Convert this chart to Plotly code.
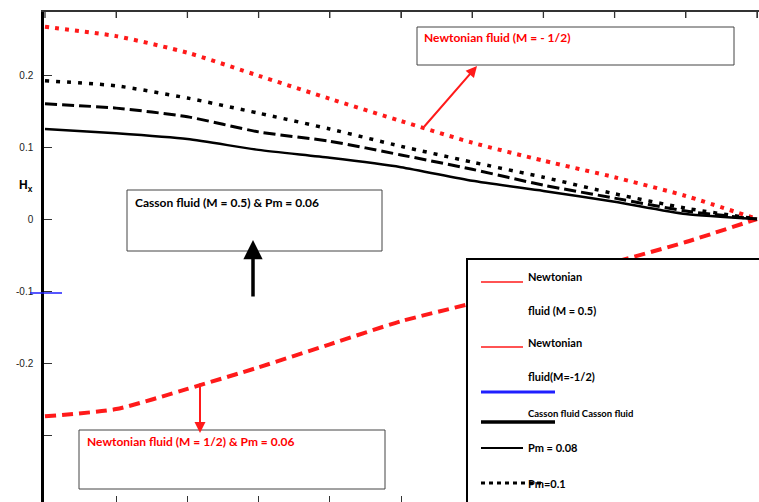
import plotly.graph_objects as go

# ---------------- data ----------------
x_vals = [0.0, 0.1, 0.2, 0.3, 0.4, 0.5, 0.6, 0.7, 0.8, 0.9, 1.0]

newtonian_m_neg_half = [0.267, 0.254, 0.231, 0.199, 0.167, 0.136, 0.106, 0.081, 0.058, 0.032, 0.0]
casson_pm_010 = [0.192, 0.185, 0.168, 0.147, 0.125, 0.101, 0.079, 0.058, 0.035, 0.015, 0.0]
casson_pm_008 = [0.160, 0.154, 0.142, 0.121, 0.108, 0.089, 0.069, 0.047, 0.029, 0.011, 0.0]
casson_pm_006 = [0.125, 0.119, 0.111, 0.096, 0.085, 0.072, 0.053, 0.039, 0.024, 0.007, 0.0]
newtonian_m_half = [-0.274, -0.264, -0.236, -0.206, -0.174, -0.142, -0.117, -0.090, -0.060, -0.032, 0.0]

y_tick_vals = [0.2, 0.1, 0.0, -0.1, -0.2, -0.3]
y_tick_text = ["0.2", "0.1", "0", "-0.1", "-0.2", ""]
x_tick_vals = [0.0, 0.1, 0.2, 0.3, 0.4, 0.5, 0.6, 0.7, 0.8, 0.9, 1.0]

# ---------------- layout helpers (pixel -> paper) ----------------
L, R, T, B = 44, 759, 12, 502
W, H = R - L, B - T


def px(x):
    return (x - L) / W


def py(y):
    return (B - y) / H


fig = go.Figure()

SM = 0.6
fig.add_trace(go.Scatter(x=x_vals, y=newtonian_m_half, mode="lines",
                         line=dict(color="#ff1a1a", width=4, dash="11px,6px", shape="spline", smoothing=SM),
                         showlegend=False))
fig.add_trace(go.Scatter(x=x_vals, y=newtonian_m_neg_half, mode="lines",
                         line=dict(color="#ff1a1a", width=4, dash="4px,6px", shape="spline", smoothing=SM),
                         showlegend=False))
fig.add_trace(go.Scatter(x=x_vals, y=casson_pm_010, mode="lines",
                         line=dict(color="black", width=3.5, dash="4px,7px", shape="spline", smoothing=SM),
                         showlegend=False))
fig.add_trace(go.Scatter(x=x_vals, y=casson_pm_008, mode="lines",
                         line=dict(color="black", width=3, dash="12px,5px", shape="spline", smoothing=SM),
                         showlegend=False))
fig.add_trace(go.Scatter(x=x_vals, y=casson_pm_006, mode="lines",
                         line=dict(color="black", width=2.5, shape="spline", smoothing=SM),
                         showlegend=False))

FONT = "Lato"
shapes = []
annotations = []

# top-edge tick marks along the x axis
for tv in x_tick_vals:
    shapes.append(dict(type="line", xref="x", yref="paper", x0=tv, x1=tv,
                       y0=1, y1=1 - 6 / H, line=dict(color="#333", width=1.3), layer="above"))

# annotation boxes
boxes = [
    (417, 27, 734, 65, 422, 38, "Newtonian fluid (M = - 1/2)", "#ff0000"),
    (127, 190, 382, 251, 133, 202, "Casson fluid (M = 0.5) & Pm = 0.06", "black"),
    (79, 430, 385, 489, 85, 441, "Newtonian fluid (M = 1/2) & Pm = 0.06", "#ff0000"),
]
for x0, y0, x1, y1, tx, ty, txt, col in boxes:
    shapes.append(dict(type="rect", xref="paper", yref="paper",
                       x0=px(x0), x1=px(x1), y0=py(y1), y1=py(y0),
                       line=dict(color="#444", width=1), fillcolor="white", layer="above"))
    annotations.append(dict(xref="paper", yref="paper", x=px(tx), y=py(ty),
                            xanchor="left", yanchor="middle", showarrow=False,
                            text="<b>" + txt + "</b>",
                            font=dict(family=FONT, size=12, color=col)))

# arrows (head px, tail px)
arrows = [
    ((477, 66), (423, 128), "#ff1a1a", 2),
    ((253, 240), (253, 298), "black", 3.5),
    ((200, 433), (200, 382), "#ff1a1a", 2),
]
for (hx, hy), (tx, ty), col, w in arrows:
    annotations.append(dict(xref="paper", yref="paper", x=px(hx), y=py(hy),
                            ax=tx - hx, ay=ty - hy, text="", showarrow=True,
                            arrowhead=2, arrowsize=1.1, arrowwidth=w, arrowcolor=col,
                            standoff=0, startstandoff=0))

# legend box
shapes.append(dict(type="rect", xref="paper", yref="paper",
                   x0=px(467), x1=px(762), y0=py(505), y1=py(259),
                   line=dict(color="black", width=2), fillcolor="white", layer="above"))

legend_lines = [
    (481, 523, 282, "#ff1a1a", 1.5, None),
    (481, 523, 347, "#ff1a1a", 1.5, None),
    (481, 555, 392, "#1f1fff", 3, None),
    (481, 555, 422, "black", 3.5, None),
    (481, 523, 448, "black", 2, None),
    (481, 543, 483, "black", 3, "4px,4px"),
]
for x0, x1, y, col, w, dash in legend_lines:
    ln = dict(color=col, width=w)
    if dash:
        ln["dash"] = dash
    shapes.append(dict(type="line", xref="paper", yref="paper",
                       x0=px(x0), x1=px(x1), y0=py(y), y1=py(y), line=ln, layer="above"))

legend_texts = [
    (526, 276, "Newtonian", 11),
    (526, 310, "fluid (M = 0.5)", 11),
    (526, 342, "Newtonian", 11),
    (526, 376, "fluid(M=-1/2)", 11),
    (526, 413, "Casson fluid Casson fluid", 9.5),
    (526, 447, "Pm = 0.08", 11),
    (526, 483, "Pm=0.1", 11),
]
for x, y, txt, sz in legend_texts:
    annotations.append(dict(xref="paper", yref="paper", x=px(x), y=py(y),
                            xanchor="left", yanchor="middle", showarrow=False,
                            text="<b>" + txt + "</b>",
                            font=dict(family=FONT, size=sz, color="black")))

# blue tick at -0.1 on the left axis
shapes.append(dict(type="line", xref="paper", yref="paper",
                   x0=px(30), x1=px(62), y0=py(293), y1=py(293),
                   line=dict(color="#1f1fff", width=1.5), layer="above"))

# y-axis title H_x
annotations.append(dict(xref="paper", yref="paper", x=px(26), y=py(186),
                        xanchor="center", yanchor="middle", showarrow=False,
                        text="<b>H<sub>x</sub></b>",
                        font=dict(family="Liberation Sans", size=12, color="black")))

x_range = [-1 / 712, (R - 45) / 712]
y_top = (219 - T) / 720
y_bot = -(B - 219) / 720

fig.update_layout(
    width=759, height=502,
    margin=dict(l=L, r=0, t=T, b=0, autoexpand=False),
    paper_bgcolor="white", plot_bgcolor="white",
    shapes=shapes, annotations=annotations,
    showlegend=False,
    xaxis=dict(range=x_range, side="top", showline=True, mirror="ticks",
               linecolor="#333", linewidth=1.5,
               ticks="inside", ticklen=6, tickwidth=1.3, tickcolor="#333", tickvals=x_tick_vals,
               showticklabels=False, showgrid=False, zeroline=False, automargin=False),
    yaxis=dict(range=[y_bot, y_top], showline=True, linecolor="black", linewidth=2.5,
               ticks="inside", ticklen=8, tickcolor="#333", tickwidth=1,
               tickvals=y_tick_vals, ticktext=y_tick_text, ticklabelstandoff=6,
               tickfont=dict(family="Liberation Sans", size=10, color="#222"),
               showgrid=False, zeroline=False, automargin=False),
)

fig.write_html("out.html", config={"displayModeBar": False},
               post_script="document.body.style.margin='0';document.body.style.overflow='hidden';")
